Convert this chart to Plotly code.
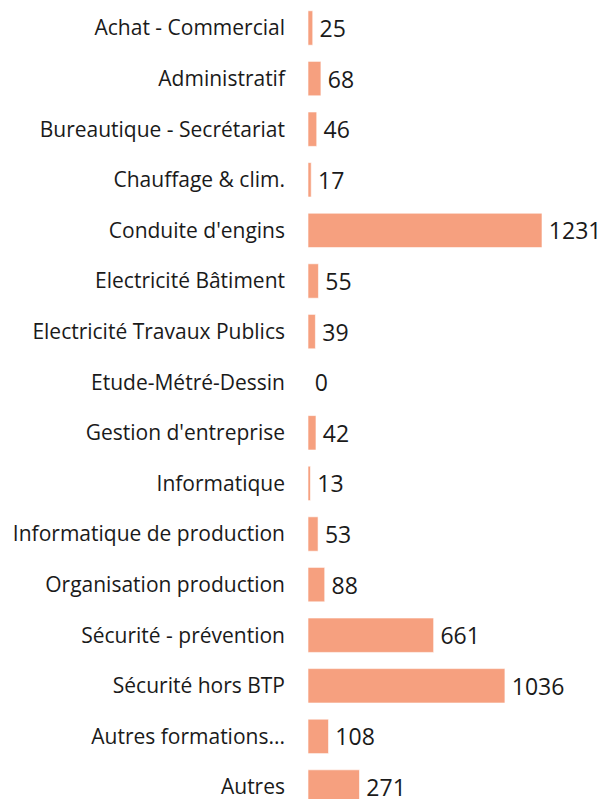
import plotly.graph_objects as go

categories = [
    "Achat - Commercial", "Administratif", "Bureautique - Secrétariat",
    "Chauffage & clim.", "Conduite d'engins", "Electricité Bâtiment",
    "Electricité Travaux Publics", "Etude-Métré-Dessin", "Gestion d'entreprise",
    "Informatique", "Informatique de production", "Organisation production",
    "Sécurité - prévention", "Sécurité hors BTP", "Autres formations...", "Autres",
]
values = [25, 68, 46, 17, 1231, 55, 39, 0, 42, 13, 53, 88, 661, 1036, 108, 271]

fig = go.Figure(go.Bar(
    x=values, y=categories, orientation="h",
    marker=dict(color="#F6A07F", line=dict(color="rgba(255,255,255,0.6)", width=1)),
    width=0.68,
    text=["\u2009" + str(v) for v in values], textposition="outside",
    textfont=dict(size=23, color="#1a1a1a", family="Open Sans"),
    cliponaxis=False,
    hoverinfo="skip",
))

W = 600 - 300
fig.update_layout(
    width=600, height=791,
    margin=dict(l=300, r=0, t=0, b=0),
    paper_bgcolor="white", plot_bgcolor="white",
    font=dict(family="Open Sans", size=21, color="#1a1a1a"),
    showlegend=False,
    xaxis=dict(range=[0, 1231 * W / 234], visible=False, fixedrange=True),
    yaxis=dict(
        type="category", categoryorder="array", categoryarray=categories,
        range=[15.237, -0.395], showgrid=False, showline=False, ticks="",
        ticklabelstandoff=22, tickfont=dict(size=21, color="#1a1a1a"),
        fixedrange=True, automargin=False,
    ),
    bargap=0.32,
)
fig.write_html("out.html")
